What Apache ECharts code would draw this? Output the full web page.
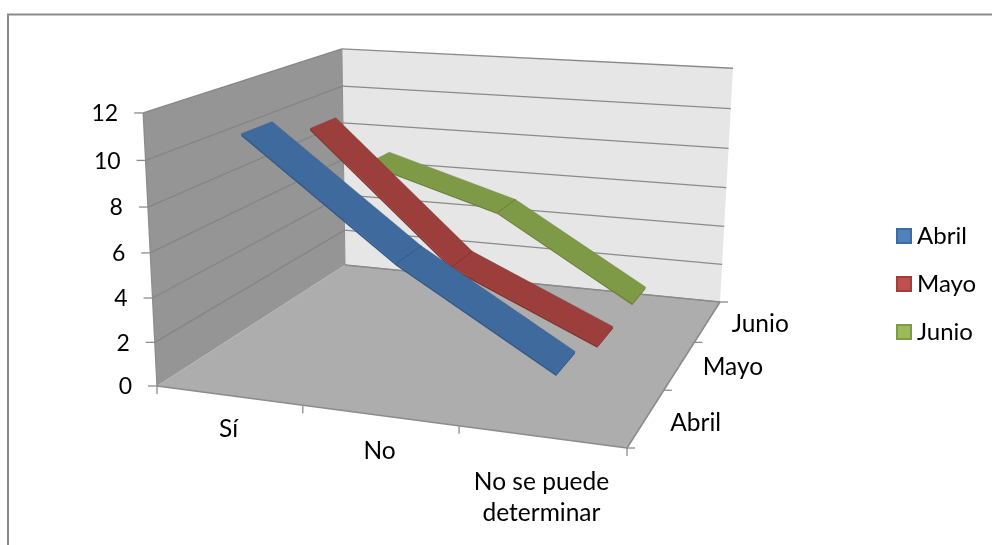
<!DOCTYPE html>
<html>
<head>
<meta charset="utf-8">
<style>html,body{margin:0;padding:0;background:#fff}#chart{width:992px;height:545px}</style>
<script src="https://cdn.jsdelivr.net/npm/echarts@6/dist/echarts.min.js"></script>
</head>
<body>
<div id="chart"></div>
<script>
// Chart content
const categories = ['Sí', 'No', 'No se puede\ndeterminar'];
const seriesNames = ['Abril', 'Mayo', 'Junio'];
const abril = [11, 6, 2];
const mayo = [10, 4, 1];
const junio = [7, 5, 1];
const valueTicks = [0, 2, 4, 6, 8, 10, 12];
const valueMax = 12;

// Ribbon and legend colours per series
const topColors = ['#3F6A9E', '#9C3E3B', '#7F9A47'];
const edgeColors = ['#335A8A', '#85332F', '#6C843A'];
const legendFill = ['#4F81BD', '#C0504D', '#9BBB59'];
const legendEdge = ['#3F6B9F', '#9E3F3C', '#7F9A48'];

// Corners of the 3D box on screen: floor front-left, front-right, back-right, back-left
const floorQuad = [[157, 386], [627, 448], [720, 302], [345, 265]];
// Top of the value axis at three of the floor corners [u, depth, x, y]
const topRefs = [[0, 0, 143, 112], [0, 1, 342, 49], [1, 1, 733, 69]];

// Square-to-quad homography for the floor plane
function floorMatrix(q) {
  const [[x0, y0], [x1, y1], [x2, y2], [x3, y3]] = q;
  const dx1 = x1 - x2, dx2 = x3 - x2, sx = x0 - x1 + x2 - x3;
  const dy1 = y1 - y2, dy2 = y3 - y2, sy = y0 - y1 + y2 - y3;
  const d = dx1 * dy2 - dx2 * dy1;
  const g = (sx * dy2 - dx2 * sy) / d;
  const h = (dx1 * sy - sx * dy1) / d;
  return [x1 - x0 + g * x1, x3 - x0 + h * x3, x0, y1 - y0 + g * y1, y3 - y0 + h * y3, y0, g, h, 1];
}
const H = floorMatrix(floorQuad);

function solve3(A, b) {
  const m = A.map((r, i) => [...r, b[i]]);
  for (let c = 0; c < 3; c++) {
    let p = c;
    for (let r = c + 1; r < 3; r++) if (Math.abs(m[r][c]) > Math.abs(m[p][c])) p = r;
    [m[c], m[p]] = [m[p], m[c]];
    for (let r = 0; r < 3; r++) {
      if (r === c) continue;
      const f = m[r][c] / m[c][c];
      for (let k = c; k < 4; k++) m[r][k] -= f * m[c][k];
    }
  }
  return m.map((r, i) => r[3] / r[i]);
}

// Height column of the projection, least squares over the reference points
function heightColumn() {
  const rows = [], rhs = [];
  topRefs.forEach(([u, z, X, Y]) => {
    const x0 = H[0] * u + H[1] * z + H[2];
    const y0 = H[3] * u + H[4] * z + H[5];
    const w0 = H[6] * u + H[7] * z + H[8];
    rows.push([1, 0, -X]); rhs.push(X * w0 - x0);
    rows.push([0, 1, -Y]); rhs.push(Y * w0 - y0);
  });
  const N = [0, 1, 2].map(i => [0, 1, 2].map(j => rows.reduce((s, r) => s + r[i] * r[j], 0)));
  const t = [0, 1, 2].map(i => rows.reduce((s, r, k) => s + r[i] * rhs[k], 0));
  return solve3(N, t);
}
const C = heightColumn();

// u: across categories, z: depth, h: height, all normalised to 0..1
function project(u, z, h) {
  const w = H[6] * u + H[7] * z + H[8] + C[2] * h;
  return [
    (H[0] * u + H[1] * z + H[2] + C[0] * h) / w,
    (H[3] * u + H[4] * z + H[5] + C[1] * h) / w
  ];
}

const nCat = categories.length, nDepth = seriesNames.length;
const halfRibbon = 0.215 / nDepth;
const ribbonThick = 0.008;
const fontFamily = 'Lato, Carlito, sans-serif';
const numberFont = { fontFamily, fontSize: 23, fill: '#000' };
const labelFont = { fontFamily, fontSize: 24.5, fill: '#000' };

function polygon(points, fill, stroke, lw) {
  return { type: 'polygon', shape: { points }, style: { fill, stroke: stroke || null, lineWidth: lw || 0 } };
}
function segment(a, b, stroke, lw) {
  return { type: 'line', shape: { x1: a[0], y1: a[1], x2: b[0], y2: b[1] }, style: { stroke, lineWidth: lw || 1.3 } };
}

// Maps data coordinates through the hidden 2D axes into the normalised box
function norm(api, params, x, v) {
  const cs = params.coordSys;
  const p = api.coord([x, v]);
  return [(p[0] - cs.x) / cs.width, (cs.y + cs.height - p[1]) / cs.height];
}

// Walls, floor, gridlines, ticks and axis labels
function renderBox(params, api) {
  const children = [];
  const P = project;
  const wallGrid = '#8A8A8A', boxLine = '#8C8C8C';
  children.push(polygon([P(0, 0, 0), P(0, 1, 0), P(0, 1, 1), P(0, 0, 1)], '#959595'));
  children.push(polygon([P(0, 1, 0), P(1, 1, 0), P(1, 1, 1), P(0, 1, 1)], '#E6E6E6'));
  children.push(polygon([P(0, 0, 0), P(1, 0, 0), P(1, 1, 0), P(0, 1, 0)], '#ADADAD'));
  valueTicks.forEach(t => {
    const h = norm(api, params, 0, t)[1];
    const a = P(0, 0, h), b = P(0, 1, h), c = P(1, 1, h);
    if (t > 0) children.push(segment(a, b, '#858585'));
    children.push(segment(b, c, wallGrid));
    children.push(segment(a, [a[0] - 9, a[1]], boxLine));
    children.push({ type: 'text', style: { ...numberFont, text: String(t), x: a[0] - 25, y: a[1] + 1, textAlign: 'right', textVerticalAlign: 'middle' } });
  });
  children.push(segment(P(0, 0, 0), P(0, 0, 1), boxLine));
  children.push(segment(P(0, 1, 0), P(0, 1, 1), boxLine, 1));
  children.push(segment(P(0, 0, 0), P(1, 0, 0), boxLine, 1.6));
  children.push(segment(P(1, 0, 0), P(1, 1, 0), boxLine, 1.6));
  children.push(segment(P(0, 1, 0), P(1, 1, 0), boxLine, 1));
  for (let i = 0; i <= nCat; i++) {
    const a = P(i / nCat, 0, 0);
    children.push(segment(a, [a[0], a[1] + 8], boxLine));
  }
  for (let i = 0; i <= nDepth; i++) {
    const a = P(1, i / nDepth, 0);
    children.push(segment(a, [a[0] + 8, a[1]], boxLine));
  }
  categories.forEach((name, i) => {
    const a = P((i + 0.5) / nCat, 0, 0);
    const drop = [18, 20, 30][i];
    children.push({ type: 'text', style: { ...labelFont, text: name, x: a[0], y: a[1] + drop, textAlign: 'center', textVerticalAlign: 'top', lineHeight: 31 } });
  });
  seriesNames.forEach((name, i) => {
    const a = P(1, (i + 0.5) / nDepth, 0);
    const gap = [24, 23, 24][i];
    children.push({ type: 'text', style: { ...labelFont, text: name, x: a[0] + gap, y: a[1] + [5, 2, 3][i], textAlign: 'left', textVerticalAlign: 'middle' } });
  });
  return { type: 'group', children };
}

// One ribbon segment between consecutive categories
function ribbonRenderer(depthIndex) {
  return function (params, api) {
    const i = params.dataIndex;
    if (i >= nCat - 1) return null;
    const a = norm(api, params, api.value(0, i), api.value(1, i));
    const b = norm(api, params, api.value(0, i + 1), api.value(1, i + 1));
    const za = (depthIndex + 0.5) / nDepth - halfRibbon;
    const zb = (depthIndex + 0.5) / nDepth + halfRibbon;
    const f0 = project(a[0], za, a[1]), f1 = project(b[0], za, b[1]);
    const b0 = project(a[0], zb, a[1]), b1 = project(b[0], zb, b[1]);
    const f0d = project(a[0], za, a[1] - ribbonThick), f1d = project(b[0], za, b[1] - ribbonThick);
    const end = project(b[0], zb, b[1] - ribbonThick);
    const kids = [
      polygon([f0, f1, f1d, f0d], edgeColors[depthIndex]),
      polygon([f1, b1, end, f1d], edgeColors[depthIndex]),
      polygon([f0, f1, b1, b0], topColors[depthIndex], edgeColors[depthIndex], 0.4)
    ];
    if (i > 0) kids.push(segment(f0, b0, edgeColors[depthIndex], 1));
    return { type: 'group', children: kids };
  };
}

const rows = [abril, mayo, junio];
const ribbonSeries = seriesNames.map((name, d) => ({
  type: 'custom',
  name,
  z: 5 + (nDepth - d),
  coordinateSystem: 'cartesian2d',
  encode: { x: 0, y: 1 },
  clip: false,
  silent: true,
  itemStyle: { color: legendFill[d], borderColor: legendEdge[d], borderWidth: 1.5 },
  renderItem: ribbonRenderer(d),
  data: categories.map((c, i) => [i + 0.5, rows[d][i]])
}));

const chart = echarts.init(document.getElementById('chart'), null, { renderer: 'canvas' });
chart.setOption({
  animation: false,
  backgroundColor: '#fff',
  grid: { left: 0, right: 0, top: 0, bottom: 0, containLabel: false },
  xAxis: { type: 'value', min: 0, max: 3, show: false },
  yAxis: { type: 'value', min: 0, max: valueMax, interval: 2, show: false },
  legend: {
    orient: 'vertical',
    left: 896,
    top: 222,
    padding: 0,
    itemWidth: 14,
    itemHeight: 14,
    itemGap: 20,
    selectedMode: false,
    icon: 'rect',
    textStyle: { fontFamily, fontSize: 24, color: '#000', padding: [0, 0, 0, 1], lineHeight: 28 },
    data: seriesNames.map(name => ({ name }))
  },
  graphic: [{
    type: 'polyline',
    silent: true,
    shape: { points: [[8, 545], [8, 14.5], [992, 14.5]] },
    style: { stroke: '#8A8A8A', lineWidth: 2, fill: null }
  }],
  series: [{
    type: 'custom',
    z: 1,
    coordinateSystem: 'cartesian2d',
    silent: true,
    clip: false,
    encode: { x: 0, y: 1 },
    renderItem: renderBox,
    data: [[0, 0]]
  }, ...ribbonSeries]
});
</script>
</body>
</html>
